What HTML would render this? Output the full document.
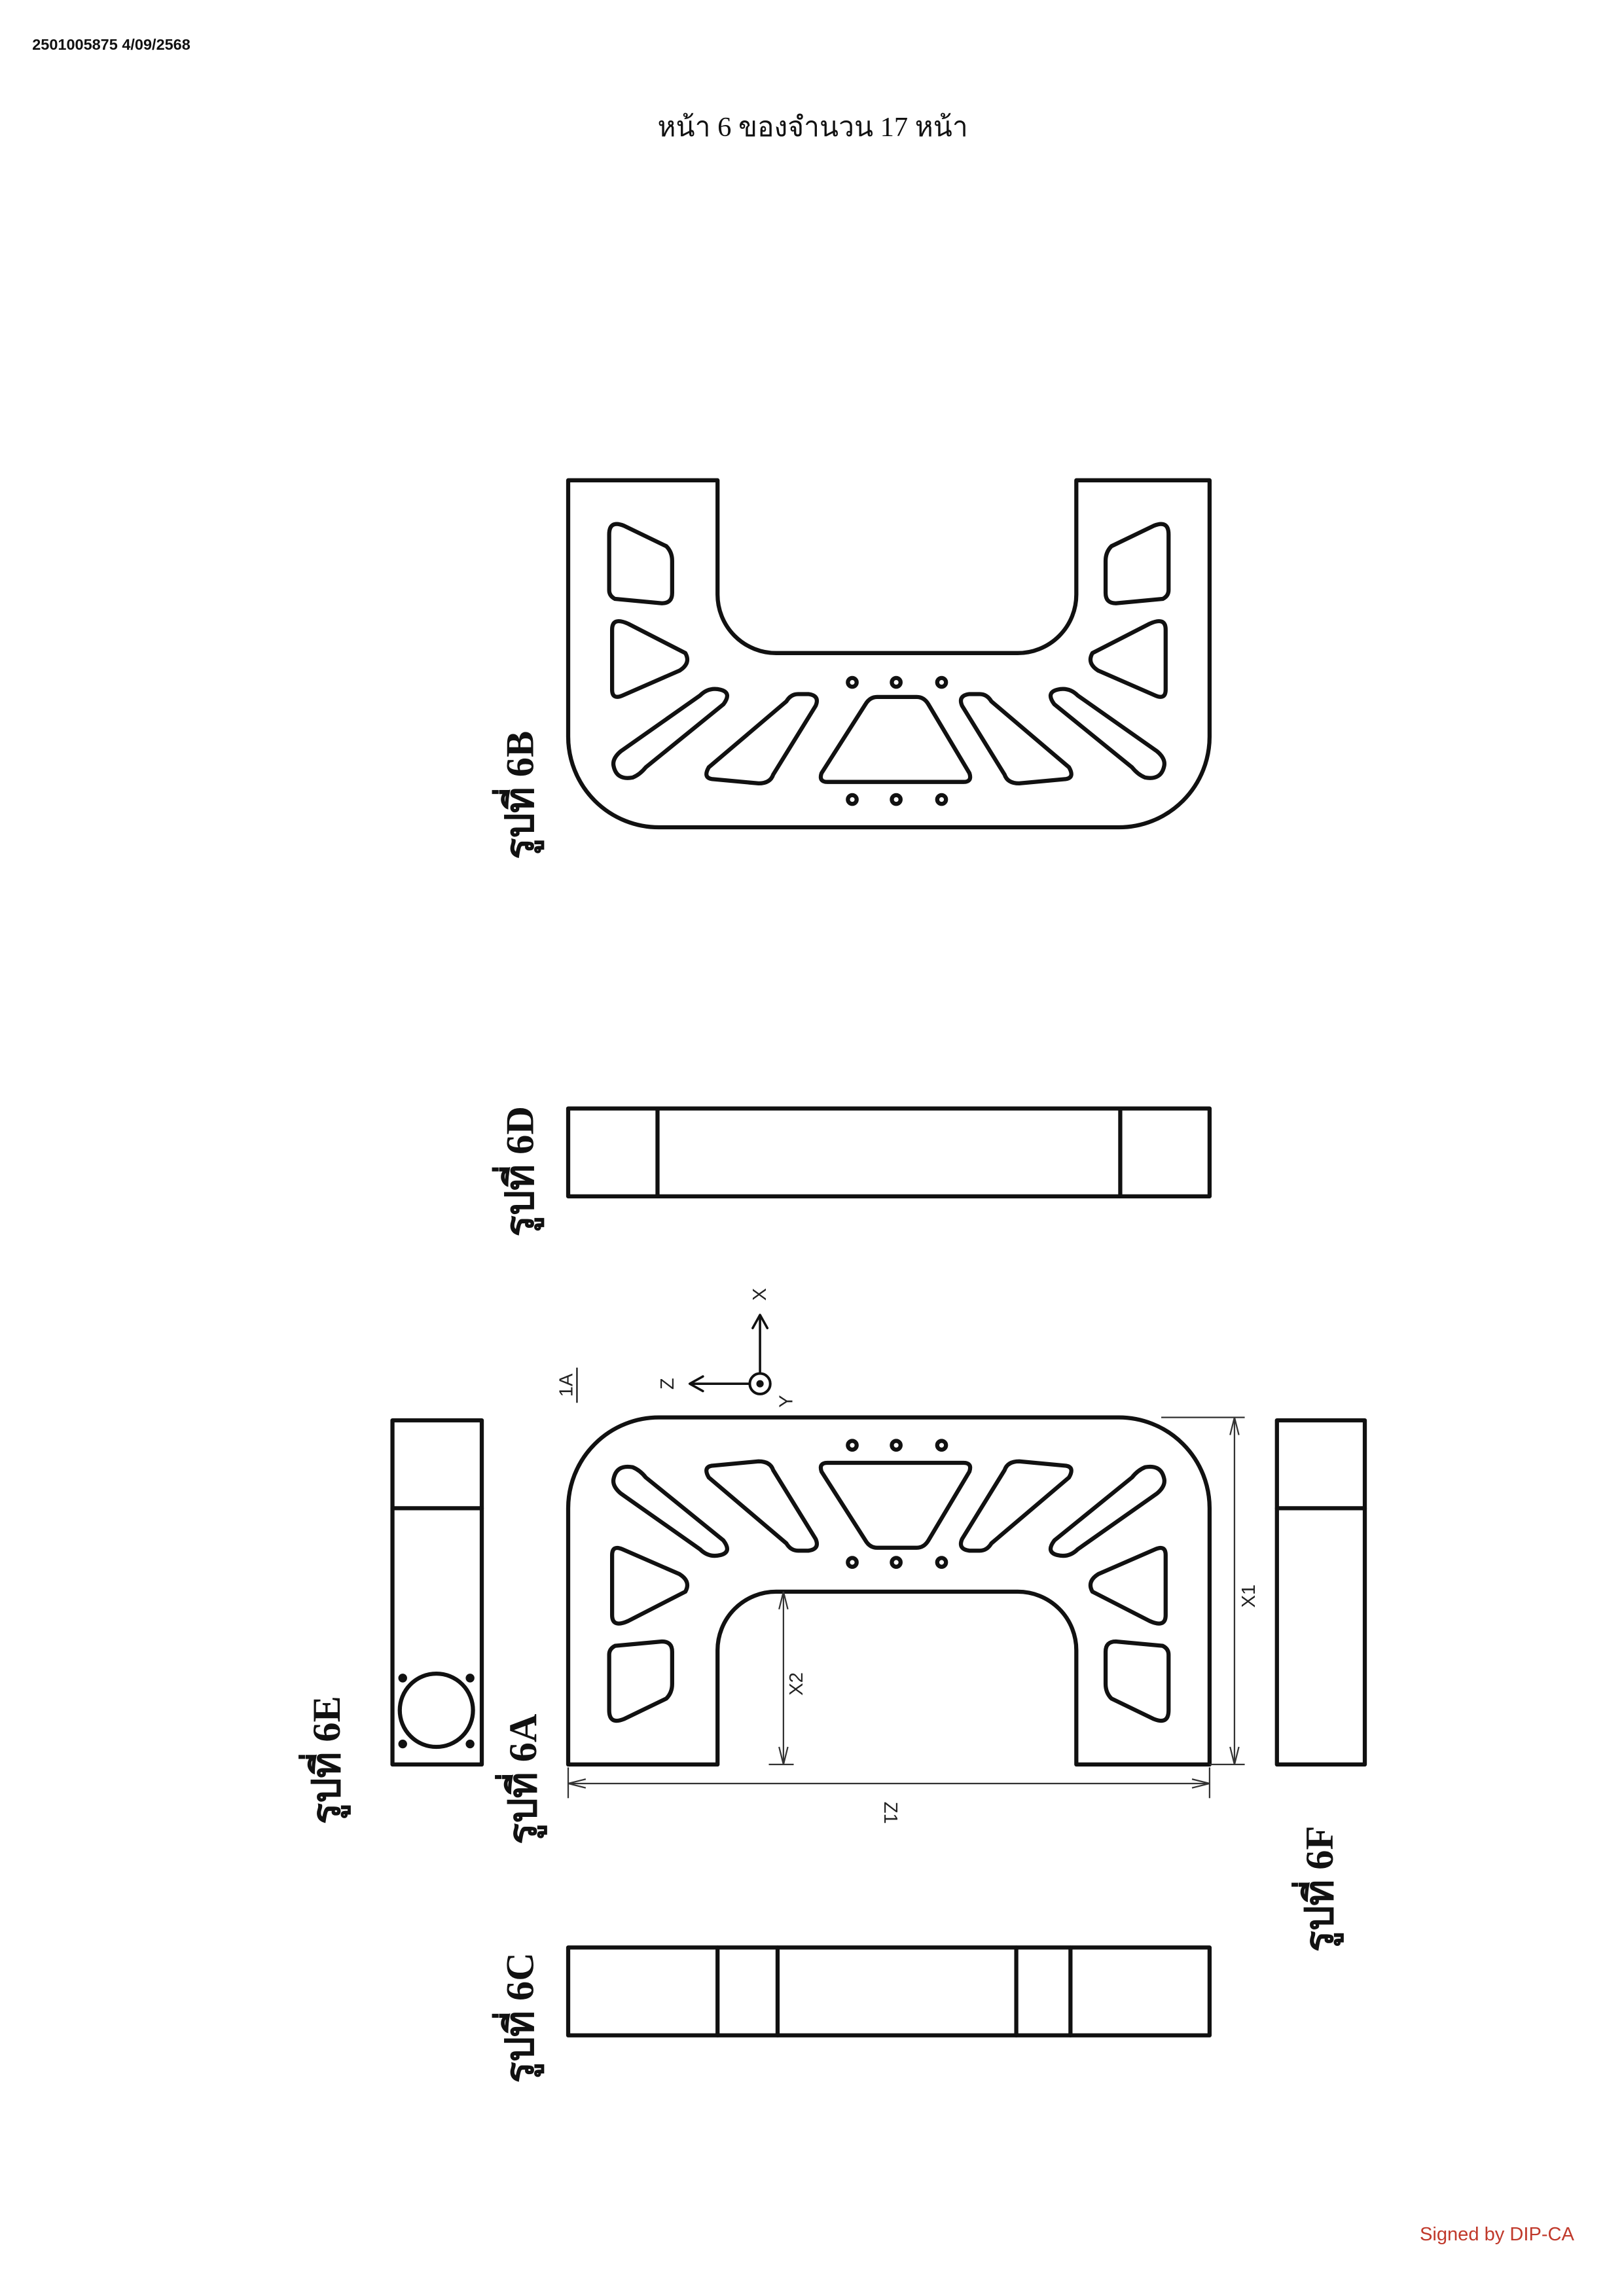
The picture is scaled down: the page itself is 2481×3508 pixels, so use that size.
<!DOCTYPE html>
<html><head><meta charset="utf-8"><style>
html,body{margin:0;padding:0;background:#fff;}
svg{display:block;}
.l{fill:none;stroke:#111;stroke-width:2.8;stroke-linejoin:round;stroke-linecap:round;}
.lab{font-family:"Liberation Serif","DejaVu Serif",serif;font-weight:bold;font-size:27px;fill:#111;}
.dim{font-family:"Liberation Sans","DejaVu Sans",sans-serif;font-size:13px;fill:#222;}
</style></head><body>
<svg width="2481" height="3508" viewBox="0 0 1109 1568" preserveAspectRatio="none" xmlns="http://www.w3.org/2000/svg">
<defs>
<g id="part">
<path class="l" d="M388,1205 L388,1030 A62,62 0 0 1 450,968 L764,968 A62,62 0 0 1 826,1030 L826,1205 L735,1205 L735,1127 A40,40 0 0 0 695,1087 L530,1087 A40,40 0 0 0 490,1127 L490,1205 Z"/>
<path class="l" d="M565,999 L658,999 Q664,999 662,1005 L634,1052 Q631,1057 626,1057 L599,1057 Q594,1057 591,1052 L561,1005 Q559,999 565,999 Z"/>
<circle class="l" cx="582" cy="987" r="3"/><circle class="l" cx="612" cy="987" r="3"/><circle class="l" cx="643" cy="987" r="3"/>
<circle class="l" cx="582" cy="1067" r="3"/><circle class="l" cx="612" cy="1067" r="3"/><circle class="l" cx="643" cy="1067" r="3"/>
<g id="half">
<path class="l" d="M419,1010 Q421,1000 432,1002 Q437,1004 441,1009 L494,1052 Q500,1060 492,1062 Q484,1064 478,1058 L424,1020 Q418,1015 419,1010 Z"/>
<path class="l" d="M486,1001 L518,998 Q526,998 528,1004 L557,1051 Q560,1058 552,1059 L545,1059 Q540,1059 537,1054 L484,1009 Q480,1002 486,1001 Z"/>
<path class="l" d="M418,1062 Q418,1055 425,1058 L464,1075 Q472,1080 468,1087 L429,1107 Q418,1112 418,1103 Z"/>
<path class="l" d="M416,1130 Q416,1126 420,1124 L452,1121 Q459,1121 459,1128 L459,1150 Q459,1156 455,1160 L426,1174 Q416,1178 416,1168 Z"/>
</g>
<use href="#half" transform="translate(1214,0) scale(-1,1)"/>
</g>
</defs>

<text x="22" y="34" style="font-family:'Liberation Sans',sans-serif;font-weight:bold;font-size:10.5px;fill:#111">2501005875 4/09/2568</text>
<text x="555" y="93" text-anchor="middle" style="font-family:'Liberation Serif','DejaVu Sans',serif;font-size:19px;fill:#111">หน้า 6 ของจำนวน 17 หน้า</text>

<use href="#part" transform="translate(0,1533) scale(1,-1)"/>
<text class="lab" transform="translate(364,543) rotate(-90)" text-anchor="middle">รูปที่ 6B</text>

<rect class="l" x="388" y="757" width="438" height="60"/>
<line class="l" x1="449" y1="757" x2="449" y2="817"/><line class="l" x1="765" y1="757" x2="765" y2="817"/>
<text class="lab" transform="translate(364,800) rotate(-90)" text-anchor="middle">รูปที่ 6D</text>

<line class="l" style="stroke-width:1.6" x1="519" y1="945" x2="519" y2="899"/>
<path class="l" style="stroke-width:1.6" d="M514,907 L519,898 L524,907"/>
<line class="l" style="stroke-width:1.6" x1="519" y1="945" x2="472" y2="945"/>
<path class="l" style="stroke-width:1.6" d="M480,940 L471,945 L480,950"/>
<circle cx="519" cy="945" r="7" fill="#fff" stroke="#111" stroke-width="1.8"/>
<circle cx="519" cy="945" r="2.5" fill="#111"/>
<text class="dim" transform="translate(523,884) rotate(-90)" text-anchor="middle">X</text>
<text class="dim" transform="translate(460,945) rotate(-90)" text-anchor="middle">Z</text>
<text class="dim" transform="translate(541,957) rotate(-90)" text-anchor="middle">Y</text>
<text class="dim" transform="translate(391,946) rotate(-90)" text-anchor="middle">1A</text>
<line x1="394" y1="934" x2="394" y2="958" stroke="#111" stroke-width="1"/>

<use href="#part"/>
<line x1="793" y1="968" x2="850" y2="968" stroke="#333" stroke-width="1"/>
<line x1="826" y1="1205" x2="850" y2="1205" stroke="#333" stroke-width="1"/>
<line x1="843" y1="968" x2="843" y2="1205" stroke="#333" stroke-width="1"/>
<path d="M840,980 L843,968 L846,980 M840,1193 L843,1205 L846,1193" fill="none" stroke="#333" stroke-width="1"/>
<text class="dim" transform="translate(857,1090) rotate(-90)" text-anchor="middle">X1</text>
<line x1="525" y1="1205" x2="542" y2="1205" stroke="#333" stroke-width="1"/>
<line x1="535" y1="1087" x2="535" y2="1205" stroke="#333" stroke-width="1"/>
<path d="M532,1099 L535,1087 L538,1099 M532,1193 L535,1205 L538,1193" fill="none" stroke="#333" stroke-width="1"/>
<text class="dim" transform="translate(548,1150) rotate(-90)" text-anchor="middle">X2</text>
<line x1="388" y1="1207" x2="388" y2="1228" stroke="#333" stroke-width="1"/>
<line x1="826" y1="1207" x2="826" y2="1228" stroke="#333" stroke-width="1"/>
<line x1="388" y1="1218" x2="826" y2="1218" stroke="#333" stroke-width="1"/>
<path d="M400,1215 L388,1218 L400,1221 M814,1215 L826,1218 L814,1221" fill="none" stroke="#333" stroke-width="1"/>
<text class="dim" transform="translate(604,1238) rotate(90)" text-anchor="middle">Z1</text>
<text class="lab" transform="translate(366,1215) rotate(-90)" text-anchor="middle">รูปที่ 6A</text>

<rect class="l" x="268" y="970" width="61" height="235"/>
<line class="l" x1="268" y1="1030" x2="329" y2="1030"/>
<circle class="l" cx="298" cy="1168" r="25"/>
<circle cx="275" cy="1146" r="3" fill="#111"/><circle cx="321" cy="1146" r="3" fill="#111"/>
<circle cx="275" cy="1191" r="3" fill="#111"/><circle cx="321" cy="1191" r="3" fill="#111"/>
<text class="lab" transform="translate(232,1202) rotate(-90)" text-anchor="middle">รูปที่ 6E</text>

<rect class="l" x="872" y="970" width="60" height="235"/>
<line class="l" x1="872" y1="1030" x2="932" y2="1030"/>
<text class="lab" transform="translate(910,1290) rotate(-90)" text-anchor="middle">รูปที่ 6F</text>

<rect class="l" x="388" y="1330" width="438" height="60"/>
<line class="l" x1="490" y1="1330" x2="490" y2="1390"/><line class="l" x1="531" y1="1330" x2="531" y2="1390"/>
<line class="l" x1="694" y1="1330" x2="694" y2="1390"/><line class="l" x1="731" y1="1330" x2="731" y2="1390"/>
<text class="lab" transform="translate(364,1378) rotate(-90)" text-anchor="middle">รูปที่ 6C</text>

<text x="1075" y="1530" text-anchor="end" style="font-family:'Liberation Sans',sans-serif;font-size:13px;fill:#c0392b">Signed by DIP-CA</text>
</svg>
</body></html>
